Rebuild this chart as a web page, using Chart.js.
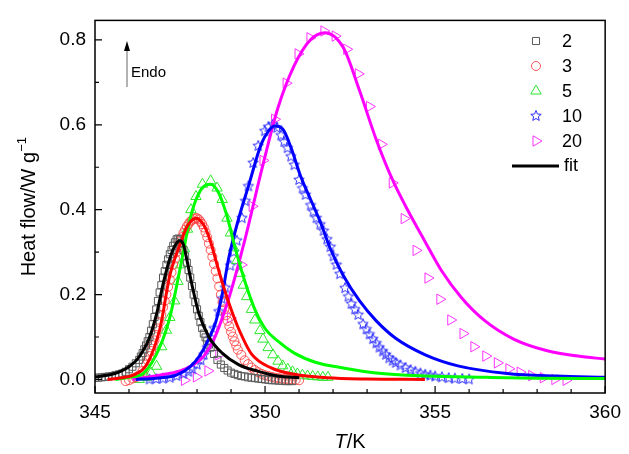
<!DOCTYPE html>
<html lang="en">
<head>
<meta charset="UTF-8">
<title>Heat flow vs temperature</title>
<script src="https://cdn.jsdelivr.net/npm/chart.js"></script>
<style>
  html, body { margin: 0; padding: 0; background: #fff; }
  canvas { display: block; }
</style>
</head>
<body>
<canvas id="dscChart" width="629" height="454"></canvas>
<script>
// heating rates shown in the legend
const rateLabels = ['2', '3', '5', '10', '20'];
const xTickLabels = [345, 350, 355, 360];
const yTickLabels = [0.0, 0.2, 0.4, 0.6, 0.8];

// measured points (T in K, heat flow in W/g)
const t2 = [345.0,345.1,345.2,345.3,345.4,345.5,345.6,345.7,345.8,345.9,346.0,346.1,346.2,346.3,346.35,346.4,346.45,346.5,346.55,346.6,346.65,346.7,346.75,346.8,346.85,346.9,346.95,347.0,347.05,347.1,347.15,347.2,347.25,347.3,347.35,347.4,347.45,347.5,347.55,347.6,347.65,347.7,347.75,347.8,347.85,347.9,347.95,348.0,348.05,348.1,348.15,348.2,348.25,348.3,348.35,348.4,348.5,348.6,348.7,348.8,348.9,349.0,349.1,349.2,349.3,349.4,349.5,349.6,349.7,349.8,349.9,350.0,350.1,350.2,350.3,350.4,350.5,350.6,350.7,350.8];
const h2 = [0.004,0.004,0.005,0.006,0.007,0.008,0.010,0.012,0.014,0.018,0.024,0.030,0.038,0.046,0.054,0.062,0.071,0.080,0.090,0.100,0.115,0.130,0.147,0.165,0.185,0.205,0.222,0.240,0.255,0.270,0.283,0.295,0.305,0.315,0.323,0.330,0.332,0.330,0.320,0.305,0.290,0.275,0.258,0.240,0.220,0.200,0.182,0.165,0.150,0.135,0.121,0.108,0.099,0.090,0.082,0.075,0.060,0.046,0.035,0.027,0.021,0.016,0.013,0.010,0.008,0.007,0.005,0.004,0.003,0.002,0.001,0.000,-0.001,-0.002,-0.002,-0.003,-0.003,-0.004,-0.004,-0.004];

const t3 = [345.9,346.0,346.1,346.2,346.3,346.4,346.5,346.55,346.6,346.65,346.7,346.75,346.8,346.85,346.9,346.95,347.0,347.05,347.1,347.15,347.2,347.25,347.3,347.35,347.4,347.45,347.5,347.55,347.6,347.65,347.7,347.75,347.8,347.85,347.9,347.95,348.0,348.05,348.1,348.15,348.2,348.25,348.3,348.35,348.4,348.45,348.5,348.55,348.6,348.65,348.7,348.75,348.8,348.85,348.9,348.95,349.0,349.05,349.1,349.15,349.2,349.3,349.4,349.5,349.6,349.7,349.8,349.9,350.0,350.1,350.2,350.3,350.4,350.5,350.6,350.7,350.8,350.9,351.0];
const h3 = [-0.004,-0.002,0.002,0.005,0.010,0.020,0.035,0.045,0.055,0.067,0.080,0.092,0.105,0.120,0.135,0.152,0.170,0.185,0.200,0.218,0.235,0.252,0.270,0.285,0.300,0.313,0.325,0.335,0.345,0.353,0.360,0.366,0.372,0.375,0.378,0.380,0.380,0.377,0.372,0.366,0.358,0.347,0.335,0.320,0.305,0.289,0.272,0.255,0.238,0.219,0.200,0.182,0.165,0.151,0.138,0.125,0.112,0.101,0.090,0.080,0.070,0.058,0.045,0.036,0.028,0.022,0.017,0.013,0.010,0.008,0.006,0.004,0.003,0.002,0.001,0.000,0.000,-0.001,-0.002];

const t5 = [346.3,346.5,346.65,346.81,346.96,347.1,347.2,347.34,347.44,347.52,347.63,347.72,347.82,347.97,348.16,348.4,348.59,348.74,348.88,348.98,349.08,349.17,349.27,349.36,349.46,349.6,349.7,349.85,349.94,350.09,350.23,350.38,350.52,350.67,350.81,350.95,351.1,351.25,351.4,351.55,351.7,351.85];
const h5 = [0.000,0.005,0.015,0.031,0.077,0.116,0.146,0.185,0.231,0.270,0.308,0.354,0.400,0.431,0.460,0.468,0.451,0.424,0.380,0.345,0.310,0.280,0.250,0.222,0.195,0.165,0.140,0.115,0.095,0.075,0.058,0.043,0.032,0.024,0.018,0.013,0.010,0.008,0.007,0.006,0.005,0.005];

const t10 = [346.6,346.8,347.0,347.2,347.4,347.6,347.75,347.86,348.0,348.11,348.2,348.3,348.4,348.5,348.64,348.73,348.83,348.98,349.08,349.17,349.32,349.42,349.51,349.65,349.8,349.99,350.1,350.23,350.35,350.47,350.56,350.66,350.76,350.86,351.0,351.1,351.19,351.34,351.42,351.51,351.62,351.72,351.82,351.92,352.01,352.1,352.2,352.35,352.45,352.54,352.64,352.74,352.88,352.98,353.07,353.17,353.27,353.36,353.46,353.55,353.65,353.75,353.84,353.98,354.13,354.28,354.42,354.57,354.71,354.86,355.0,355.2,355.4,355.58,355.8,356.0];
const h10 = [0.000,0.001,0.002,0.004,0.008,0.013,0.018,0.024,0.035,0.045,0.058,0.075,0.098,0.120,0.160,0.190,0.216,0.268,0.300,0.327,0.380,0.420,0.455,0.510,0.550,0.585,0.595,0.600,0.593,0.575,0.560,0.545,0.525,0.505,0.470,0.450,0.435,0.410,0.395,0.380,0.365,0.350,0.330,0.312,0.290,0.270,0.248,0.215,0.195,0.178,0.165,0.152,0.130,0.118,0.106,0.095,0.085,0.075,0.066,0.058,0.050,0.044,0.039,0.033,0.027,0.022,0.018,0.014,0.011,0.009,0.007,0.005,0.003,0.002,0.001,0.000];

const t20 = [347.63,347.98,348.32,348.64,348.98,349.3,349.62,349.94,350.28,350.62,350.97,351.32,351.73,352.06,352.4,352.74,353.07,353.42,353.74,354.09,354.44,354.79,355.14,355.46,355.82,356.14,356.49,356.83,357.17,357.5,357.84,358.18,358.52,358.85];
const h20 = [-0.002,0.006,0.020,0.058,0.145,0.270,0.408,0.516,0.613,0.698,0.767,0.805,0.821,0.809,0.778,0.720,0.643,0.554,0.463,0.379,0.304,0.239,0.189,0.140,0.108,0.077,0.055,0.039,0.025,0.017,0.009,0.004,0.000,-0.002];

// fitted curves
const fitT2 = [345.0,345.5,345.75,346.0,346.23,346.4,346.57,346.81,347.0,347.2,347.35,347.49,347.6,347.68,347.87,348.06,348.35,348.74,349.22,349.8,350.38,351.0];
const fitH2 = [0.006,0.012,0.019,0.030,0.046,0.066,0.092,0.154,0.224,0.285,0.315,0.327,0.318,0.290,0.216,0.154,0.100,0.062,0.035,0.019,0.008,0.004];
const fitT3 = [345.37,345.8,346.13,346.52,346.91,347.2,347.49,347.72,347.97,348.21,348.4,348.59,348.79,348.98,349.22,349.6,350.18,350.86,351.82,353.0,354.7];
const fitH3 = [0.000,0.004,0.010,0.035,0.120,0.245,0.316,0.362,0.380,0.362,0.324,0.270,0.216,0.170,0.120,0.060,0.027,0.012,0.004,0.001,0.000];
const fitT5 = [345.6,346.0,346.43,346.91,347.2,347.39,347.58,347.77,347.97,348.2,348.4,348.64,348.88,349.12,349.41,349.7,350.0,350.38,350.86,351.5,352.3,353.27,354.71,356.5,358.0,360.0];
const fitH5 = [0.000,0.005,0.015,0.077,0.146,0.216,0.293,0.370,0.424,0.455,0.460,0.439,0.385,0.310,0.230,0.165,0.120,0.090,0.062,0.040,0.027,0.015,0.008,0.005,0.003,0.002];
const fitT10 = [346.2,346.8,347.39,347.8,348.06,348.35,348.55,348.74,348.93,349.22,349.51,349.89,350.1,350.28,350.52,350.76,351.05,351.34,351.63,351.92,352.3,352.78,353.27,353.84,354.71,355.67,357.12,358.57,360.0];
const fitH10 = [0.000,0.003,0.010,0.030,0.054,0.096,0.135,0.200,0.285,0.378,0.455,0.555,0.585,0.597,0.590,0.547,0.478,0.424,0.370,0.308,0.245,0.185,0.138,0.097,0.058,0.032,0.014,0.008,0.005];
const fitT20 = [346.1,346.9,347.5,347.9,348.2,348.5,348.93,349.41,349.89,350.38,350.86,351.33,351.76,352.3,352.78,353.27,353.75,354.22,354.71,355.19,355.77,356.45,357.31,358.27,359.2,360.0];
const fitH20 = [0.000,0.010,0.020,0.035,0.055,0.095,0.190,0.330,0.490,0.640,0.740,0.800,0.817,0.782,0.680,0.565,0.470,0.395,0.324,0.256,0.193,0.139,0.095,0.068,0.055,0.048];

function pts(xs, ys) { return xs.map((x, i) => ({ x: x, y: ys[i] })); }

// hollow five-point star used for the 10 K/min markers
function makeStar(color, r) {
    const c = document.createElement('canvas');
    const s = Math.ceil(r * 2 + 3);
    c.width = s; c.height = s;
    const g = c.getContext('2d');
    g.strokeStyle = color;
    g.lineWidth = 1;
    g.beginPath();
    for (let i = 0; i < 10; i++) {
        const rr = i % 2 === 0 ? r : r * 0.45;
        const a = -Math.PI / 2 + i * Math.PI / 5;
        const px = s / 2 + rr * Math.cos(a), py = s / 2 + rr * Math.sin(a);
        if (i === 0) g.moveTo(px, py); else g.lineTo(px, py);
    }
    g.closePath();
    g.stroke();
    return c;
}
const starImg = makeStar('#2a2aff', 5.5);

const markerSets = [
    { data: pts(t2, h2), color: '#5a5a5a', style: 'rect', radius: 5, rotation: 0 },
    { data: pts(t3, h3), color: 'rgba(255,60,60,0.85)', style: 'circle', radius: 4.5, rotation: 0 },
    { data: pts(t5, h5), color: '#2ee82e', style: 'triangle', radius: 6, rotation: 0 },
    { data: pts(t10, h10), color: '#2a2aff', style: starImg, radius: 5, rotation: 0 },
    { data: pts(t20, h20), color: '#ff33ff', style: 'triangle', radius: 6, rotation: 90 }
];
const fitSets = [
    { data: pts(fitT2, fitH2), color: '#000000' },
    { data: pts(fitT3, fitH3), color: '#ff0000' },
    { data: pts(fitT5, fitH5), color: '#00ff00' },
    { data: pts(fitT10, fitH10), color: '#0000ff' },
    { data: pts(fitT20, fitH20), color: '#ff00ff' }
];

const datasets = [];
fitSets.forEach(f => datasets.push({
    data: f.data, showLine: true, borderColor: f.color, borderWidth: 3,
    pointRadius: 0, cubicInterpolationMode: 'monotone', fill: false
}));
markerSets.forEach(m => datasets.push({
    data: m.data, showLine: false, borderColor: m.color, backgroundColor: 'rgba(0,0,0,0)',
    pointStyle: m.style, pointRadius: m.radius, pointRotation: m.rotation, pointBorderWidth: 1
}));

const FONT = 'Liberation Sans, Arial, sans-serif';

// frame, inward ticks, titles, arrow and legend
const decor = {
    id: 'decor',
    afterDraw(chart) {
        const ctx = chart.ctx;
        const a = chart.chartArea;
        const xs = chart.scales.x, ys = chart.scales.y;
        ctx.save();
        ctx.strokeStyle = '#000';
        ctx.lineWidth = 1.5;
        ctx.strokeRect(a.left, a.top, a.right - a.left, a.bottom - a.top);

        ctx.lineWidth = 1.2;
        ctx.beginPath();
        for (let v = 345; v <= 360; v++) {
            const px = xs.getPixelForValue(v);
            const len = xTickLabels.includes(v) ? 7 : 4;
            ctx.moveTo(px, a.bottom); ctx.lineTo(px, a.bottom - len);
        }
        for (let k = 0; k <= 8; k++) {
            const py = ys.getPixelForValue(k / 10);
            const len = k % 2 === 0 ? 7 : 4;
            ctx.moveTo(a.left, py); ctx.lineTo(a.left + len, py);
        }
        ctx.stroke();

        // x title: italic T then /K
        ctx.fillStyle = '#000';
        ctx.textBaseline = 'alphabetic';
        ctx.font = 'italic 20px ' + FONT;
        const wT = ctx.measureText('T').width;
        ctx.font = '20px ' + FONT;
        const wK = ctx.measureText('/K').width;
        const cx = (a.left + a.right) / 2;
        let x0 = cx - (wT + wK) / 2;
        ctx.font = 'italic 20px ' + FONT;
        ctx.textAlign = 'left';
        ctx.fillText('T', x0, 448);
        ctx.font = '20px ' + FONT;
        ctx.fillText('/K', x0 + wT, 448);

        // y title with superscript
        ctx.save();
        ctx.translate(35, (a.top + a.bottom) / 2);
        ctx.rotate(-Math.PI / 2);
        ctx.font = '20px ' + FONT;
        const main = 'Heat flow/W g';
        const wm = ctx.measureText(main).width;
        ctx.font = '13px ' + FONT;
        const ws = ctx.measureText('\u22121').width;
        const y0 = -(wm + ws) / 2;
        ctx.font = '20px ' + FONT;
        ctx.fillText(main, y0, 0);
        ctx.font = '13px ' + FONT;
        ctx.fillText('\u22121', y0 + wm, -9);
        ctx.restore();

        // Endo arrow
        ctx.strokeStyle = '#666';
        ctx.lineWidth = 1;
        ctx.beginPath();
        ctx.moveTo(127, 87); ctx.lineTo(127, 48);
        ctx.stroke();
        ctx.fillStyle = '#000';
        ctx.beginPath();
        ctx.moveTo(127, 41); ctx.lineTo(124, 51); ctx.lineTo(130, 51); ctx.closePath();
        ctx.fill();
        ctx.font = '15px ' + FONT;
        ctx.textBaseline = 'middle';
        ctx.fillText('Endo', 131, 73);

        // legend
        const rowY = [41, 66, 91, 116, 141];
        ctx.font = '18px ' + FONT;
        markerSets.forEach((m, i) => {
            ctx.strokeStyle = m.color;
            ctx.fillStyle = 'rgba(0,0,0,0)';
            ctx.lineWidth = 1;
            Chart.helpers.drawPoint(ctx, { pointStyle: m.style, radius: m.radius, rotation: m.rotation, borderWidth: 1 }, 536, rowY[i]);
            ctx.fillStyle = '#000';
            ctx.fillText(rateLabels[i], 562, rowY[i] + 1);
        });
        ctx.strokeStyle = '#000';
        ctx.lineWidth = 3;
        ctx.beginPath();
        ctx.moveTo(512, 166); ctx.lineTo(559, 166);
        ctx.stroke();
        ctx.fillStyle = '#000';
        ctx.fillText('fit', 564, 166);
        ctx.restore();
    }
};

new Chart(document.getElementById('dscChart'), {
    type: 'scatter',
    data: { datasets: datasets },
    options: {
        responsive: false,
        animation: false,
        devicePixelRatio: 1,
        layout: { padding: { top: 14, right: 16, left: 0, bottom: 0 } },
        plugins: { legend: { display: false }, tooltip: { enabled: false } },
        scales: {
            x: {
                type: 'linear', min: 345, max: 360,
                afterFit(s) { s.height = 61; },
                afterBuildTicks(s) { s.ticks = xTickLabels.map(v => ({ value: v })); },
                grid: { display: false, drawTicks: false },
                border: { display: false },
                ticks: { padding: 8, color: '#000', font: { family: FONT, size: 19 }, callback: v => String(v) }
            },
            y: {
                type: 'linear', min: -0.032, max: 0.846,
                afterFit(s) { s.width = 95; },
                afterBuildTicks(s) { s.ticks = yTickLabels.map(v => ({ value: v })); },
                grid: { display: false, drawTicks: false },
                border: { display: false },
                ticks: { padding: 9, color: '#000', font: { family: FONT, size: 19 }, callback: v => v.toFixed(1) }
            }
        }
    },
    plugins: [decor]
});
</script>
</body>
</html>
